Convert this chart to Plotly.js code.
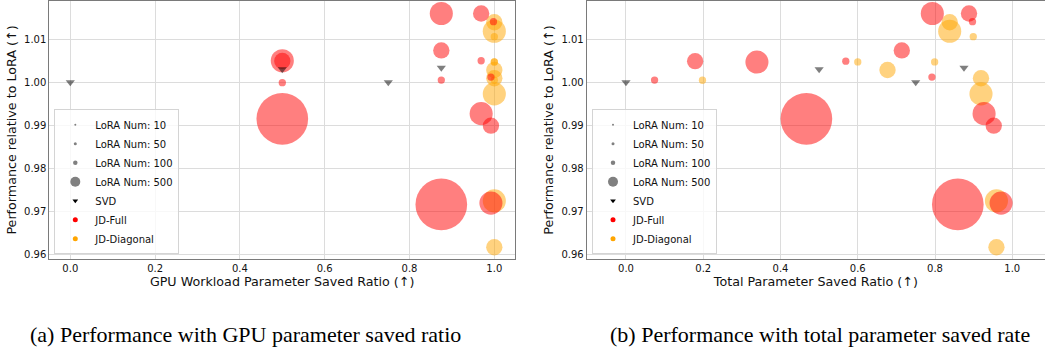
<!DOCTYPE html>
<html><head><meta charset="utf-8">
<script src="https://cdn.plot.ly/plotly-3.0.1.min.js"></script>
<style>html,body{margin:0;padding:0;overflow:hidden;background:#fff}</style>
</head><body><div id="chart" style="width:1045px;height:350px"></div>
<script>
// ---- data ----
const svdGpuX   = [0, 0.5, 0.75, 0.875];
const svdTotalX = [0, 0.5, 0.75, 0.875];
const svdY      = [1.0, 1.003, 1.0, 1.0034];

const fullGpuX = [0.875, 0.969, 0.998, 0.875, 0.969, 0.5, 0.5, 0.5, 0.875, 0.992, 0.5, 0.969, 0.992, 0.875, 0.992];
const fullGpuY = [1.0160, 1.0160, 1.0141, 1.0074, 1.0050, 1.0050, 1.00495, 0.9999, 1.0005, 1.0012, 0.9915, 0.9927, 0.9899, 0.9716, 0.9719];
const fullGpuN = [100, 50, 10, 50, 10, 100, 50, 10, 10, 10, 500, 100, 50, 500, 100];

const fullTotalX = [0.793, 0.888, 0.897, 0.714, 0.569, 0.339, 0.179, 0.074, 0.792, 0.467, 0.927, 0.952, 0.859, 0.971];
const fullTotalY = [1.0160, 1.0160, 1.0141, 1.0074, 1.0049, 1.0047, 1.0049, 1.0005, 1.0012, 0.9915, 0.9927, 0.9899, 0.9716, 0.9719];
const fullTotalN = [100, 50, 10, 50, 10, 100, 50, 10, 10, 500, 100, 50, 500, 100];

const diagGpuX   = [1.0, 1.0, 1.0, 1.0, 1.0, 1.0, 1.0, 1.0, 1.0, 1.0, 1.0];
const diagTotalX = [0.838, 0.838, 0.899, 0.799, 0.600, 0.677, 0.919, 0.919, 0.198, 0.959, 0.959];
const diagY      = [1.01395, 1.01186, 1.0106, 1.00473, 1.00473, 1.00285, 1.00093, 0.99729, 1.00047, 0.97241, 0.96164];
const diagN      = [50, 100, 10, 10, 10, 50, 50, 100, 10, 100, 50];

const loraNumLegend = [10, 50, 100, 500];
const loraLegendSize = [1, 3, 4.5, 10];

const xTickVals = [0, 0.2, 0.4, 0.6, 0.8, 1.0];
const xTickText = ['0.0', '0.2', '0.4', '0.6', '0.8', '1.0'];
const yTickVals = [0.96, 0.97, 0.98, 0.99, 1.00, 1.01];
const yTickText = ['0.96', '0.97', '0.98', '0.99', '1.00', '1.01'];

const xTitles = ['GPU Workload Parameter Saved Ratio (↑)', 'Total Parameter Saved Ratio (↑)'];
const yTitle = 'Performance relative to LoRA (↑)';
const captions = ['(a) Performance with GPU parameter saved ratio', '(b) Performance with total parameter saved rate'];

// ---- styling ----
const FONT = 'DejaVu Sans';
const RED = 'rgba(255,0,0,0.5)';
const ORANGE = 'rgba(255,165,0,0.5)';
const SVDC = 'rgba(0,0,0,0.5)';
const sz = n => n.map(v => 2.31 * Math.sqrt(v));

function panelTraces(xa, ya, lg, svdX, fx, fy, fn, dx) {
  const t = [];
  t.push({type:'scatter', mode:'markers', x: dx, y: diagY, xaxis: xa, yaxis: ya, showlegend:false, hoverinfo:'x+y',
    marker:{size: sz(diagN), color: ORANGE, opacity: 1, line:{width:0}}});
  t.push({type:'scatter', mode:'markers', x: fx, y: fy, xaxis: xa, yaxis: ya, showlegend:false, hoverinfo:'x+y',
    marker:{size: sz(fn), color: RED, opacity: 1, line:{width:0}}});
  t.push({type:'scatter', mode:'markers', x: svdX, y: svdY, xaxis: xa, yaxis: ya, showlegend:false, hoverinfo:'x+y',
    marker:{size: 8, symbol:'triangle-down', color: SVDC, opacity: 1, line:{width:0}}});
  // legend entries
  loraNumLegend.forEach((n, i) => {
    t.push({type:'scatter', mode:'markers', x:[null], y:[null], xaxis: xa, yaxis: ya, legend: lg,
      name: 'LoRA Num: ' + n, legendrank: 1 + i,
      marker:{size: loraLegendSize[i], color:'#808080', line:{width:0}}});
  });
  t.push({type:'scatter', mode:'markers', x:[null], y:[null], xaxis: xa, yaxis: ya, legend: lg, name:'SVD', legendrank: 5,
    marker:{size: 5, symbol:'triangle-down', color:'#000', line:{width:0}}});
  t.push({type:'scatter', mode:'markers', x:[null], y:[null], xaxis: xa, yaxis: ya, legend: lg, name:'JD-Full', legendrank: 6,
    marker:{size: 5, color:'#ff0000', line:{width:0}}});
  t.push({type:'scatter', mode:'markers', x:[null], y:[null], xaxis: xa, yaxis: ya, legend: lg, name:'JD-Diagonal', legendrank: 7,
    marker:{size: 5, color:'#ffa500', line:{width:0}}});
  return t;
}

const data = [
  ...panelTraces('x', 'y', 'legend', svdGpuX, fullGpuX, fullGpuY, fullGpuN, diagGpuX),
  ...panelTraces('x2', 'y2', 'legend2', svdTotalX, fullTotalX, fullTotalY, fullTotalN, diagTotalX)
];

const W = 1045, H = 350;
const yDom = [(H - 259) / H, (H - 1) / H];
function xAx(dom, range, title, mirror) {
  return {domain: dom, range: range, tickvals: xTickVals, ticktext: xTickText, showgrid: true, gridcolor: '#dcdcdc', gridwidth: 1,
    zeroline: false, showline: true, linecolor: '#7a7a7a', linewidth: 1, mirror: mirror, ticks: '',
    tickfont: {family: FONT, size: 10, color: '#111'},
    title: {text: title, font: {family: FONT, size: 12.7, color: '#111'}, standoff: 4}};
}
function yAx(anchor, mirror) {
  return {anchor: anchor, domain: yDom, range: [0.9589, 1.0189], tickvals: yTickVals, ticktext: yTickText, showgrid: true,
    gridcolor: '#dcdcdc', gridwidth: 1, zeroline: false, showline: true, linecolor: '#7a7a7a', linewidth: 1, mirror: mirror, ticks: '',
    tickfont: {family: FONT, size: 10, color: '#111'},
    title: {text: yTitle, font: {family: FONT, size: 12.7, color: '#111'}, standoff: 4}};
}
const legendStyle = (x) => ({x: x, y: (H - 254.3) / H, xanchor: 'left', yanchor: 'bottom', xref: 'paper', yref: 'paper',
  bgcolor: 'rgba(255,255,255,0.8)', bordercolor: '#d4d4d4', borderwidth: 1,
  font: {family: FONT, size: 10, color: '#111'}, itemsizing: 'trace', tracegroupgap: 0});

const layout = {
  width: W, height: H, margin: {l: 0, r: 0, t: 0, b: 0}, paper_bgcolor: '#fff', plot_bgcolor: '#fff',
  showlegend: true, hovermode: 'closest',
  xaxis: Object.assign(xAx([49.3 / W, 515 / W], [-0.0495, 1.0488], xTitles[0], true), {anchor: 'y'}),
  yaxis: yAx('x', true),
  xaxis2: Object.assign(xAx([586.7 / W, 1], [-0.1017, 1.0847], xTitles[1], true), {anchor: 'y2'}),
  yaxis2: yAx('x2', false),
  legend: legendStyle(54.3 / W),
  legend2: legendStyle(592 / W),
  annotations: [
    {text: captions[0], xref: 'paper', yref: 'paper', x: 28 / W, y: (H - 334) / H, xanchor: 'left', yanchor: 'middle', showarrow: false,
      font: {family: 'Liberation Serif', size: 22, color: '#000'}},
    {text: captions[1], xref: 'paper', yref: 'paper', x: 608 / W, y: (H - 334) / H, xanchor: 'left', yanchor: 'middle', showarrow: false,
      font: {family: 'Liberation Serif', size: 22, color: '#000'}}
  ]
};

Plotly.newPlot('chart', data, layout, {displayModeBar: false, responsive: false});
</script></body></html>
